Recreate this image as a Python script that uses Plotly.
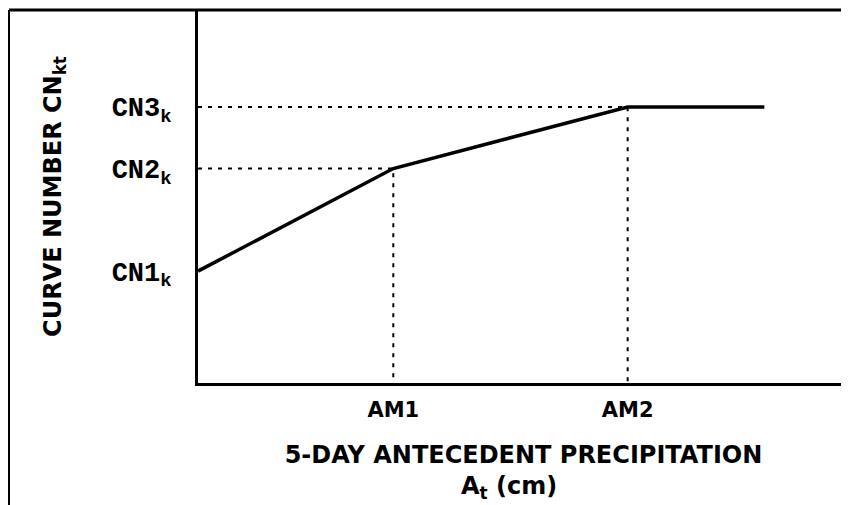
import plotly.graph_objects as go

# Data (abstract units)
precip_points = [0.0, 3.0, 6.6, 8.7]          # antecedent precipitation breakpoints
curve_numbers = [3.0, 5.75, 7.4, 7.4]         # curve number at those breakpoints
x_tick_vals = [3.0, 6.6]
x_tick_labels = ["AM1", "AM2"]
y_tick_vals = [3.0, 5.75, 7.4]
y_tick_labels = ["CN1<sub>k</sub>", "CN2<sub>k</sub>", "CN3<sub>k</sub>"]
x_title_line1 = "5-DAY ANTECEDENT PRECIPITATION"
x_title_line2 = "A<sub>t</sub> (cm)"
y_title = "CURVE NUMBER CN<sub>kt</sub>"

# the page adds an 8px body margin, so the figure is drawn 8px smaller
OFF = 8
W, H = 849 - OFF, 505 - OFF
L, T = 198 - OFF, 10 - OFF
B = H - (383 - OFF)
R = 0
pw, ph = W - L - R, H - T - B

fig = go.Figure()

dot = dict(color="black", width=2, dash="4px,6px")
# guide lines for AM1/CN2 and AM2/CN3
for xv, yv in [(x_tick_vals[0], y_tick_vals[1]), (x_tick_vals[1], y_tick_vals[2])]:
    fig.add_trace(go.Scatter(x=[0, xv, xv], y=[yv, yv, 0], mode="lines",
                             line=dot, hoverinfo="skip", showlegend=False))

fig.add_trace(go.Scatter(x=precip_points, y=curve_numbers, mode="lines",
                         line=dict(color="black", width=3.5), showlegend=False))

title_font = dict(family="DejaVu Sans", size=24, color="black", weight="bold")

fig.update_xaxes(range=[0, 10], showline=True, linecolor="black", linewidth=3,
                 showgrid=False, zeroline=False, ticks="",
                 tickvals=x_tick_vals, ticktext=x_tick_labels,
                 tickfont=dict(family="DejaVu Sans", size=21, color="black", weight="bold"),
                 ticklabelstandoff=6,
                 title=dict(text=x_title_line1, font=title_font, standoff=25))
fig.update_yaxes(range=[0, 10], showline=True, linecolor="black", linewidth=3,
                 showgrid=False, zeroline=False, ticks="",
                 tickvals=y_tick_vals, ticktext=y_tick_labels,
                 tickfont=dict(family="Liberation Mono", size=27, color="black", weight="bold"),
                 ticklabelstandoff=18,
                 title=dict(text=y_title, font=title_font, standoff=44))

# second line of the x-axis title (units)
fig.add_annotation(text=x_title_line2, xref="paper", yref="paper",
                   x=(509 - 198) / pw, y=(383 - 487) / ph, xanchor="center", yanchor="middle",
                   showarrow=False, font=title_font)

# outer frame (top and left edges)
fx = (9 - 198) / pw
fig.add_shape(type="line", xref="paper", yref="paper", x0=fx, x1=1.02, y0=1, y1=1,
              line=dict(color="black", width=3))
fig.add_shape(type="line", xref="paper", yref="paper", x0=fx, x1=fx, y0=1, y1=-0.4,
              line=dict(color="black", width=2))

fig.update_layout(width=W, height=H, margin=dict(l=L, r=R, t=T, b=B, autoexpand=False),
                  plot_bgcolor="white", paper_bgcolor="white", showlegend=False)

fig.write_html("out.html")
